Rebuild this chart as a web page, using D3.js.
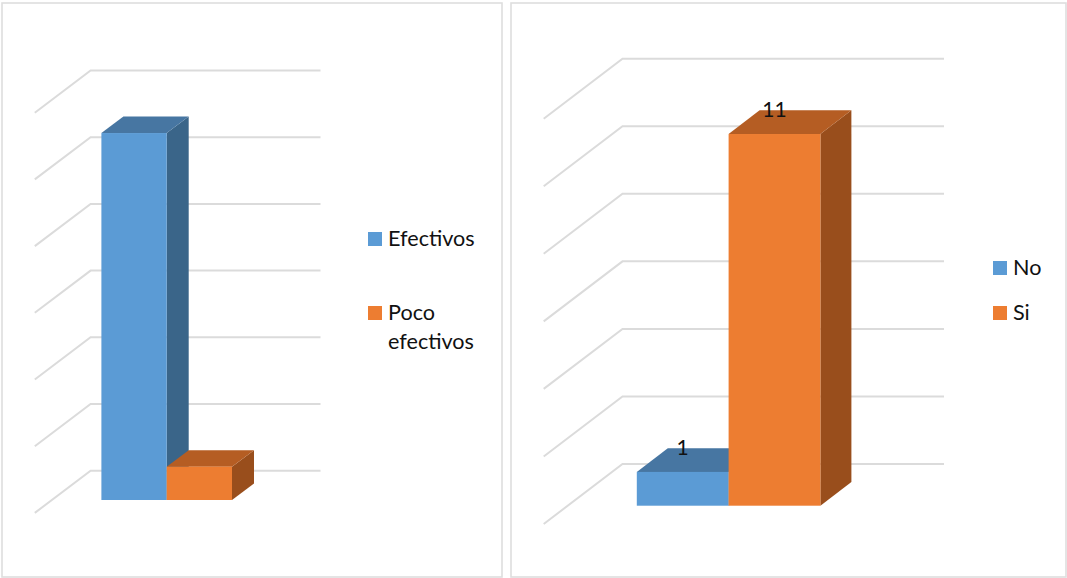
<!DOCTYPE html>
<html>
<head>
<meta charset="utf-8">
<script src="https://cdn.jsdelivr.net/npm/d3@7"></script>
<style>
  html, body { margin: 0; padding: 0; background: #fff; }
  svg { display: block; }
  text { font-family: Lato, "Open Sans", sans-serif; fill: #111; }
</style>
</head>
<body>
<script>
// Survey results, one array per panel
const effectivenessCategories = ["Efectivos", "Poco efectivos"];
const effectivenessValues = [11, 1];
const answerCategories = ["No", "Si"];
const answerValues = [1, 11];
const gridTicks = [0, 2, 4, 6, 8, 10, 12];

const BLUE = { front: "#5B9BD5", top: "#4776A2", side: "#3A6589" };
const ORANGE = { front: "#ED7D31", top: "#B55D23", side: "#994E1C" };
const seriesColours = [BLUE, ORANGE];

const svg = d3.select("body").append("svg").attr("width", 1067).attr("height", 578);

// Panel geometry: oblique projection of a column chart onto the page
const panels = [
  {
    frame: [2, 3, 500, 574],
    categories: effectivenessCategories, values: effectivenessValues, labelled: false,
    barX: [101.4, 232], barBase: 500, unitHeight: 33.36,
    barDepth: [22, 16.5],
    gridBack: [470.7, 70.5], gridX: [90.6, 320.5], gridDepth: [55.8, 42.2],
    legend: { swatchX: 368, textX: 388, rows: [
      { y: 246, lines: [["Efectivos", 246]] },
      { y: 320, lines: [["Poco", 320], ["efectivos", 349]] }
    ] }
  },
  {
    frame: [511, 3, 555, 574],
    categories: answerCategories, values: answerValues, labelled: true,
    barX: [636.8, 820.4], barBase: 505.7, unitHeight: 33.79,
    barDepth: [31, 23.7],
    gridBack: [464, 58.7], gridX: [622.5, 944], gridDepth: [78.8, 60],
    legend: { swatchX: 993, textX: 1013, rows: [
      { y: 275, lines: [["No", 275]] },
      { y: 320, lines: [["Si", 320]] }
    ] }
  }
];

const polygon = pts => d3.line()(pts) + "Z";

panels.forEach(p => {
  const g = svg.append("g");

  g.append("rect")
    .attr("x", p.frame[0]).attr("y", p.frame[1])
    .attr("width", p.frame[2]).attr("height", p.frame[3])
    .attr("fill", "#fff").attr("stroke", "#DEDEDE").attr("stroke-width", 1.6);

  // Gridlines run along the back wall and then forward across the side wall
  const yGrid = d3.scaleLinear().domain([0, 12]).range(p.gridBack);
  const [dxG, dyG] = p.gridDepth;
  g.append("g").selectAll("path").data(gridTicks).join("path")
    .attr("d", t => d3.line()([
      [p.gridX[0] - dxG, yGrid(t) + dyG],
      [p.gridX[0], yGrid(t)],
      [p.gridX[1], yGrid(t)]
    ]))
    .attr("fill", "none").attr("stroke", "#DBDBDB").attr("stroke-width", 2);

  // Columns, each drawn as front, top and side faces
  const x = d3.scaleBand().domain(p.categories).range(p.barX).padding(0);
  const y = d3.scaleLinear().domain([0, 12]).range([p.barBase, p.barBase - 12 * p.unitHeight]);
  const [dx, dy] = p.barDepth;

  p.categories.forEach((c, i) => {
    const v = p.values[i];
    const x0 = x(c), x1 = x0 + x.bandwidth(), yT = y(v), yB = y(0);
    const col = seriesColours[i];
    const bar = g.append("g");
    bar.append("path").attr("fill", col.side)
      .attr("d", polygon([[x1, yT], [x1 + dx, yT - dy], [x1 + dx, yB - dy], [x1, yB]]));
    bar.append("path").attr("fill", col.top)
      .attr("d", polygon([[x0, yT], [x0 + dx, yT - dy], [x1 + dx, yT - dy], [x1, yT]]));
    bar.append("rect").attr("fill", col.front)
      .attr("x", x0).attr("y", yT).attr("width", x1 - x0).attr("height", yB - yT);
  });

  if (p.labelled) {
    p.categories.forEach((c, i) => {
      g.append("text")
        .attr("x", x(c) + x.bandwidth() / 2)
        .attr("y", y(p.values[i]) - 17)
        .attr("text-anchor", "middle")
        .attr("font-size", 21)
        .text(p.values[i]);
    });
  }

  // Legend
  const rows = g.append("g").selectAll("g").data(p.legend.rows).join("g");
  rows.append("rect")
    .attr("x", p.legend.swatchX).attr("y", r => r.y - 14)
    .attr("width", 14).attr("height", 14)
    .attr("fill", (r, i) => seriesColours[i].front);
  rows.selectAll("text").data(r => r.lines).join("text")
    .attr("x", p.legend.textX).attr("y", d => d[1])
    .attr("font-size", 21.6)
    .text(d => d[0]);
});
</script>
</body>
</html>
